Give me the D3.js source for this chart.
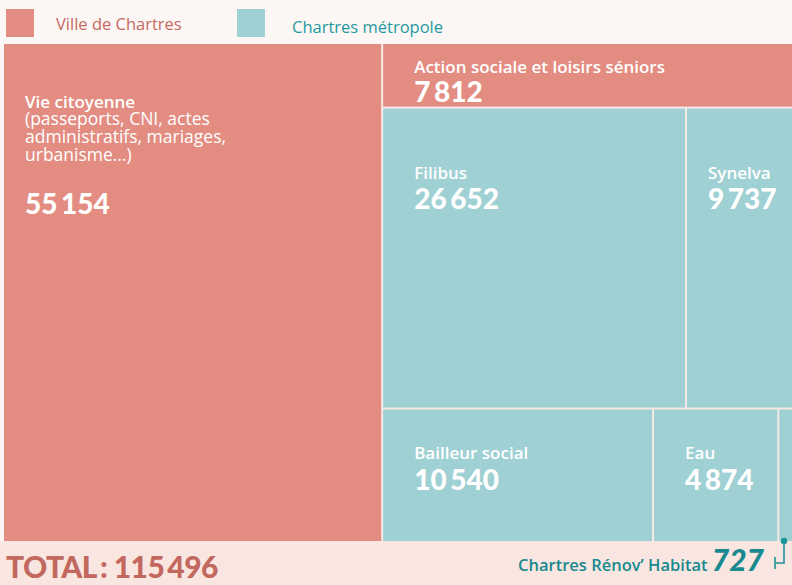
<!DOCTYPE html>
<html>
<head>
<meta charset="utf-8">
<script src="https://cdn.jsdelivr.net/npm/d3@7"></script>
<style>
  html, body { margin: 0; padding: 0; background: #fcf7f5; }
  svg { display: block; }
  .name { font-family: "Open Sans", sans-serif; font-weight: 600; fill: #fff; }
  .note { font-family: "Open Sans", sans-serif; font-weight: 400; fill: #fff; }
  .num { font-family: "Lato", sans-serif; font-weight: 900; fill: #fff; }
</style>
</head>
<body>
<div id="chart"></div>
<script>
// data
var categories = ["Vie citoyenne", "Action sociale et loisirs séniors", "Filibus", "Synelva",
                  "Bailleur social", "Eau", "Chartres Rénov’ Habitat"];
var values = [55154, 7812, 26652, 9737, 10540, 4874, 727];
var owners = ["Ville de Chartres", "Ville de Chartres", "Chartres métropole", "Chartres métropole",
              "Chartres métropole", "Chartres métropole", "Chartres métropole"];
// how the blocks are grouped in the picture
var blocks = ["left", "top", "middle", "middle", "bottom", "bottom", "bottom"];
var notes = ["(passeports, CNI, actes", "administratifs, mariages,", "urbanisme…)"];
var legendLabels = ["Ville de Chartres", "Chartres métropole"];

var W = 792, H = 585;
var color = d3.scaleOrdinal().domain(legendLabels).range(["#e38c81", "#9fd0d4"]);
var textColor = d3.scaleOrdinal().domain(legendLabels).range(["#c4695f", "#1d9aa0"]);
var fmt = d3.formatLocale({ decimal: ",", thousands: "\u2009", grouping: [3], currency: ["", " €"] }).format(",d");

var svg = d3.select("#chart").append("svg")
  .attr("width", W)
  .attr("height", H)

svg.append("rect").attr("width", W).attr("height", H).attr("fill", "#fcf7f5");
svg.append("rect").attr("y", 541).attr("width", W).attr("height", H - 541).attr("fill", "#f9e6e1");

// legend
var leg = svg.selectAll("g.leg").data(legendLabels).enter().append("g")
  .attr("class", "leg")
  .attr("transform", function (d, i) { return "translate(" + [6 + i * 231, 9] + ")"; });
leg.append("rect").attr("width", 28).attr("height", 28).attr("fill", function (d) { return color(d); });
leg.append("text")
  .attr("x", function (d, i) { return i ? 55 : 50; })
  .attr("y", function (d, i) { return i ? 24 : 21; })
  .style("font-family", "'Open Sans', sans-serif")
  .style("font-size", "16.5px")
  .attr("fill", function (d) { return textColor(d); })
  .text(function (d) { return d; });

// hierarchy : left column, then the right side split in rows
var leaves = categories.map(function (c, i) {
  return { name: c, value: values[i], owner: owners[i], block: blocks[i], i: i };
});
function group(name, list) { return { name: name, children: list }; }
var rows = [];
leaves.forEach(function (l) {
  if (l.block == "left") return;
  var row = rows.find(function (r) { return r.name == l.block; });
  if (l.block == "top") { rows.push(l); return; }
  if (!row) { row = group(l.block, []); rows.push(row); }
  row.children.push(l);
});
var tree = group("root", [leaves[0], group("right", rows)]);

var root = d3.hierarchy(tree).sum(function (d) { return d.children ? 0 : d.value; });
d3.treemap()
  .tile(d3.treemapSliceDice)
  .size([792, 497])
  .paddingInner(2)(root);

var map = svg.append("g").attr("transform", "translate(4,44)");
map.append("rect").attr("width", 792).attr("height", 497).attr("fill", "#f7e9e5");

var cell = map.selectAll("g.cell").data(root.leaves()).enter().append("g")
  .attr("class", "cell")
  .attr("transform", function (d) { return "translate(" + [d.x0, d.y0] + ")"; });

cell.append("rect")
  .attr("width", function (d) { return d.x1 - d.x0; })
  .attr("height", function (d) { return d.y1 - d.y0; })
  .attr("fill", function (d) { return color(d.data.owner); });

// label offsets per block (x, name baseline, number baseline)
var pos = { left: [21, 64, 170], top: [31, 29, 58], middle: [31, 70, 100], bottom: [31, 49, 80] };
var labelled = cell.filter(function (d) { return d.data.value > 1000; });

labelled.append("text")
  .attr("class", "name")
  .attr("x", function (d) { return d.data.i == 3 ? 21 : pos[d.data.block][0]; })
  .attr("y", function (d) { return pos[d.data.block][1]; })
  .style("font-size", "17px")
  .text(function (d) { return d.data.name; });

labelled.append("text")
  .attr("class", "num")
  .attr("x", function (d) { return d.data.i == 3 ? 21 : pos[d.data.block][0]; })
  .attr("y", function (d) { return pos[d.data.block][2]; })
  .style("font-size", "28px")
  .text(function (d) { return fmt(d.data.value); });

labelled.filter(function (d) { return d.data.i == 0; })
  .selectAll("text.note").data(notes).enter().append("text")
  .attr("class", "note")
  .attr("x", 21)
  .attr("y", function (d, i) { return 81 + i * 18; })
  .style("font-size", "17.5px")
  .text(function (d) { return d; });

// small block labelled outside with a leader
var small = root.leaves().filter(function (d) { return d.data.value <= 1000; })[0];
var cx = 4 + (small.x0 + small.x1) / 2, cy = 44 + small.y1;
if (cx > W - 8) cx = W - 8;
svg.append("path")
  .attr("d", "M" + cx + "," + cy + "V563H775M775,557V569")
  .attr("fill", "none")
  .attr("stroke", "#1d949a")
  .attr("stroke-width", 1.6);
svg.append("circle").attr("cx", cx).attr("cy", cy).attr("r", 3.2).attr("fill", "#1d949a");

var foot = svg.append("text")
  .attr("x", 764)
  .attr("y", 571)
  .attr("text-anchor", "end")
  .attr("fill", "#17898f");
foot.append("tspan")
  .style("font-family", "'Open Sans', sans-serif")
  .style("font-weight", 600)
  .style("font-size", "16.5px")
  .text(small.data.name + " ");
foot.append("tspan")
  .style("font-family", "Lato, sans-serif")
  .style("font-weight", 900)
  .style("font-style", "italic")
  .style("font-size", "30px")
  .text(fmt(small.data.value));

// total
svg.append("text")
  .attr("x", 6)
  .attr("y", 578)
  .attr("fill", "#c2685e")
  .style("font-family", "Lato, sans-serif")
  .style("font-weight", 900)
  .style("font-size", "30px")
  .style("letter-spacing", "-0.6px")
  .text("TOTAL\u2009: " + fmt(d3.sum(values)));
</script>
</body>
</html>
